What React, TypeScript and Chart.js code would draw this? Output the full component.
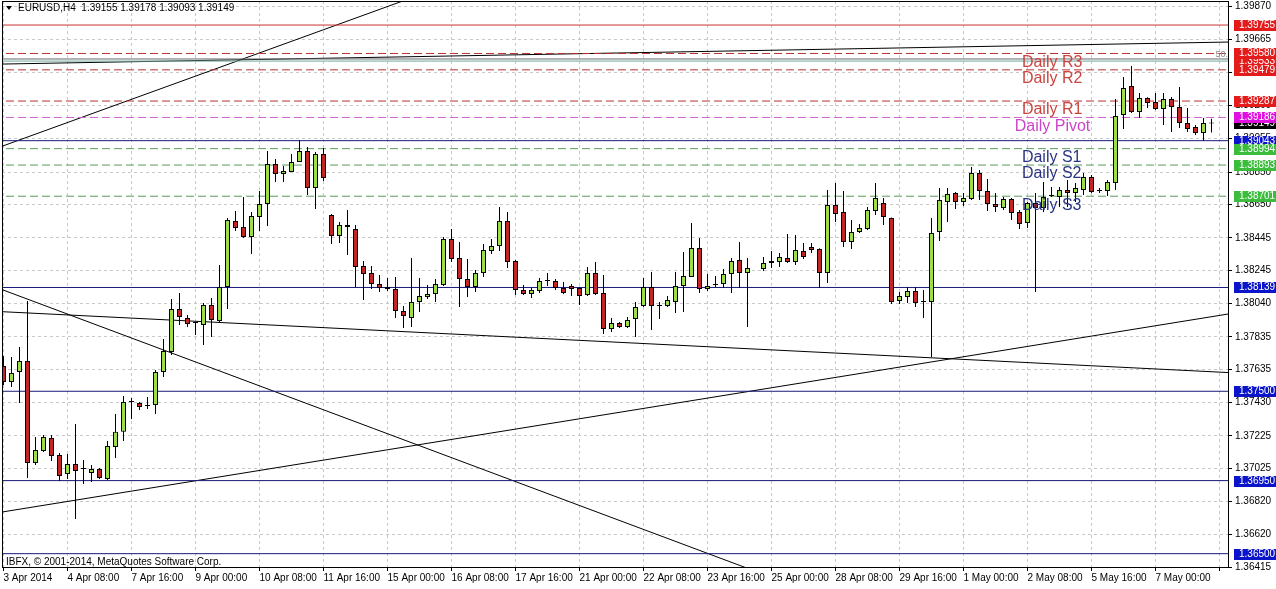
import React, { useEffect, useRef } from 'react';
import { Chart, registerables } from 'chart.js';

Chart.register(...registerables);

const W = 1276;
const H = 589;

// ---- Data (EURUSD H4) ----
const OPEN: (number | null)[] = [
  1.37656, 1.37557, 1.37619, 1.37687, 1.37059, 1.37132, 1.37213, 1.37107, 1.36990, 1.37052,
  1.37021, 1.36997, 1.37021, 1.36960, 1.37157, 1.37250, 1.37434, 1.37428, 1.37409, 1.37415,
  1.37619, 1.37742, 1.38006, 1.37951, 1.37920, 1.37908, 1.38031, 1.37932, 1.38142, 1.38549,
  1.38512, 1.38450, 1.38573, 1.38653, 1.38899, 1.38838, 1.38850, 1.38911, 1.38979, 1.38751,
  1.38961, 1.38585, 1.38456, 1.38524, 1.38499, 1.38271, 1.38228, 1.38160, 1.38142, 1.38130,
  1.37994, 1.37951, 1.38050, 1.38080, 1.38099, 1.38154, 1.38438, 1.38320, 1.38191, 1.38142,
  1.38228, 1.38364, 1.38394, 1.38549, 1.38302, 1.38124, 1.38099, 1.38117, 1.38179, 1.38179,
  1.38136, 1.38148, 1.38136, 1.38093, 1.38228, 1.38105, 1.37883, 1.37920, 1.37896, 1.37945,
  1.38025, 1.38142, 1.38025, 1.38025, 1.38050, 1.38148, 1.38204, 1.38382, 1.38130, 1.38154,
  1.38160, 1.38222, 1.38308, 1.38228, null, 1.38253, 1.38290, 1.38296, 1.38320, 1.38296,
  1.38364, 1.38388, 1.38376, 1.38228, 1.38647, 1.38604, 1.38419, 1.38481, 1.38499, 1.38610,
  1.38659, 1.38567, 1.38056, 1.38080, 1.38117, 1.38050, 1.38050, 1.38481, 1.38665, 1.38721,
  1.38665, 1.38684, 1.38844, 1.38733, 1.38653, 1.38628, 1.38684, 1.38604, 1.38536, 1.38659,
  1.38628, 1.38702, 1.38696, 1.38739, 1.38721, 1.38739, 1.38819, 1.38733, 1.38733, 1.38782,
  1.39201, 1.39380, 1.39219, 1.39306, 1.39281, 1.39238, 1.39299, 1.39250, 1.39152, 1.39127,
  1.39090, 1.39155,
];
const HIGH: (number | null)[] = [
  1.37717, 1.37711, 1.37773, 1.38056, 1.37219, 1.37231, 1.37231, 1.37120, 1.37114, 1.37298,
  1.37077, 1.37046, 1.37028, 1.37194, 1.37360, 1.37471, 1.37459, 1.37434, 1.37465, 1.37631,
  1.37822, 1.38068, 1.38105, 1.37969, 1.37926, 1.38043, 1.38074, 1.38277, 1.38567, 1.38610,
  1.38696, 1.38604, 1.38733, 1.38979, 1.38930, 1.38887, 1.38961, 1.39047, 1.39004, 1.38973,
  1.38998, 1.38592, 1.38542, 1.38616, 1.38524, 1.38302, 1.38271, 1.38216, 1.38197, 1.38204,
  1.38025, 1.38320, 1.38197, 1.38154, 1.38191, 1.38450, 1.38499, 1.38419, 1.38314, 1.38247,
  1.38407, 1.38438, 1.38635, 1.38604, 1.38308, 1.38154, 1.38136, 1.38197, 1.38228, 1.38191,
  1.38173, 1.38160, 1.38142, 1.38265, 1.38296, 1.38216, 1.37951, 1.37926, 1.37957, 1.38050,
  1.38197, 1.38234, 1.38050, 1.38086, 1.38234, 1.38358, 1.38536, 1.38444, 1.38222, 1.38210,
  1.38253, 1.38320, 1.38419, 1.38320, null, 1.38327, 1.38364, 1.38351, 1.38468, 1.38462,
  1.38413, 1.38413, 1.38380, 1.38739, 1.38782, 1.38733, 1.38555, 1.38530, 1.38635, 1.38782,
  1.38690, 1.38570, 1.38111, 1.38142, 1.38142, 1.38124, 1.38567, 1.38751, 1.38751, 1.38727,
  1.38721, 1.38881, 1.38862, 1.38807, 1.38721, 1.38696, 1.38690, 1.38616, 1.38665, 1.38721,
  1.38788, 1.38758, 1.38758, 1.38801, 1.38782, 1.38844, 1.38831, 1.38751, 1.38801, 1.39299,
  1.39435, 1.39503, 1.39336, 1.39310, 1.39336, 1.39336, 1.39312, 1.39373, 1.39244, 1.39139,
  1.39183, 1.39178,
];
const LOW: (number | null)[] = [
  1.37538, 1.37526, 1.37428, 1.36966, 1.37046, 1.37126, 1.37071, 1.36948, 1.36960, 1.36713,
  1.36929, 1.36942, 1.36960, 1.36954, 1.37089, 1.37194, 1.37329, 1.37385, 1.37391, 1.37360,
  1.37588, 1.37723, 1.37908, 1.37896, 1.37846, 1.37785, 1.37834, 1.37920, 1.38006, 1.38487,
  1.38444, 1.38345, 1.38487, 1.38518, 1.38788, 1.38788, 1.38850, 1.38911, 1.38708, 1.38622,
  1.38795, 1.38407, 1.38413, 1.38339, 1.38142, 1.38062, 1.38130, 1.38111, 1.38117, 1.37951,
  1.37889, 1.37896, 1.37988, 1.38068, 1.38050, 1.38148, 1.38296, 1.38019, 1.38080, 1.38111,
  1.38204, 1.38345, 1.38364, 1.38259, 1.38093, 1.38093, 1.38074, 1.38105, 1.38148, 1.38124,
  1.38099, 1.38086, 1.38031, 1.38086, 1.38093, 1.37852, 1.37865, 1.37889, 1.37889, 1.37834,
  1.38019, 1.37877, 1.37945, 1.38019, 1.37982, 1.37988, 1.38204, 1.38105, 1.38117, 1.38142,
  1.38136, 1.38105, 1.38136, 1.37896, null, 1.38240, 1.38259, 1.38265, 1.38290, 1.38277,
  1.38314, 1.38351, 1.38136, 1.38167, 1.38542, 1.38388, 1.38376, 1.38475, 1.38493, 1.38585,
  1.38524, 1.38037, 1.38037, 1.38043, 1.38019, 1.37951, 1.37711, 1.38425, 1.38542, 1.38622,
  1.38641, 1.38678, 1.38678, 1.38610, 1.38604, 1.38616, 1.38555, 1.38499, 1.38506, 1.38111,
  1.38604, 1.38696, 1.38635, 1.38635, 1.38665, 1.38708, 1.38721, 1.38721, 1.38702, 1.38739,
  1.39115, 1.39213, 1.39183, 1.39244, 1.39232, 1.39139, 1.39096, 1.39121, 1.39096, 1.39078,
  1.39041, 1.39093,
];
const CLOSE: (number | null)[] = [
  1.37557, 1.37613, 1.37687, 1.37059, 1.37138, 1.37219, 1.37101, 1.36978, 1.37052, 1.37009,
  1.37021, 1.37021, 1.36966, 1.37163, 1.37250, 1.37434, 1.37434, 1.37403, 1.37409, 1.37619,
  1.37748, 1.38006, 1.37957, 1.37914, 1.37920, 1.38031, 1.37939, 1.38142, 1.38555, 1.38506,
  1.38450, 1.38579, 1.38653, 1.38899, 1.38838, 1.38856, 1.38911, 1.38979, 1.38751, 1.38961,
  1.38813, 1.38456, 1.38524, 1.38512, 1.38265, 1.38222, 1.38160, 1.38136, 1.38130, 1.37994,
  1.37963, 1.38050, 1.38086, 1.38099, 1.38160, 1.38438, 1.38314, 1.38191, 1.38142, 1.38228,
  1.38370, 1.38394, 1.38549, 1.38296, 1.38124, 1.38099, 1.38124, 1.38179, 1.38179, 1.38136,
  1.38105, 1.38130, 1.38086, 1.38228, 1.38099, 1.37883, 1.37920, 1.37896, 1.37939, 1.38019,
  1.38142, 1.38025, 1.38025, 1.38062, 1.38148, 1.38210, 1.38382, 1.38130, 1.38148, 1.38154,
  1.38222, 1.38302, 1.38228, 1.38259, null, 1.38290, 1.38302, 1.38327, 1.38296, 1.38370,
  1.38327, 1.38370, 1.38228, 1.38647, 1.38592, 1.38419, 1.38481, 1.38506, 1.38616, 1.38690,
  1.38573, 1.38050, 1.38086, 1.38117, 1.38043, 1.38050, 1.38475, 1.38678, 1.38715, 1.38665,
  1.38690, 1.38844, 1.38733, 1.38653, 1.38635, 1.38684, 1.38598, 1.38530, 1.38659, 1.38628,
  1.38696, 1.38702, 1.38739, 1.38721, 1.38751, 1.38819, 1.38727, 1.38733, 1.38788, 1.39195,
  1.39367, 1.39219, 1.39306, 1.39275, 1.39238, 1.39299, 1.39250, 1.39152, 1.39115, 1.39090,
  1.39152, 1.39149,
];

const SYMBOL = 'EURUSD,H4';

// axis ticks
const X_TICKS = [0, 8, 16, 24, 32, 40, 48, 56, 64, 72, 80, 88, 96, 104, 112, 120, 128, 136, 144, 152];
const X_LABELS = [
  '3 Apr 2014', '4 Apr 08:00', '7 Apr 16:00', '9 Apr 00:00', '10 Apr 08:00', '11 Apr 16:00',
  '15 Apr 00:00', '16 Apr 08:00', '17 Apr 16:00', '21 Apr 00:00', '22 Apr 08:00', '23 Apr 16:00',
  '25 Apr 00:00', '28 Apr 08:00', '29 Apr 16:00', '1 May 00:00', '2 May 08:00', '5 May 16:00',
  '7 May 00:00', '',
];
const Y_TICKS = [
  1.39870, 1.39665, 1.39460, 1.39260, 1.39055, 1.38850, 1.38650, 1.38445, 1.38245, 1.38040,
  1.37835, 1.37635, 1.37430, 1.37225, 1.37025, 1.36820, 1.36620, 1.36415,
];

// horizontal levels
const LEVEL_PRICES = [1.39755, 1.39580, 1.39479, 1.39287, 1.39186, 1.39043, 1.38994, 1.38893, 1.38701, 1.38139, 1.37500, 1.36950, 1.36500, 1.39546, 1.39533];
const LEVEL_KINDS = ['red', 'redDash', 'redDash', 'redDash', 'magDash', 'navy', 'greenDash', 'greenDash', 'greenDash', 'navy', 'navy', 'navy', 'navy', 'fibGray', 'fibTeal'];

// trend lines: [x1, price1, x2, price2]
const TRENDS: number[][] = [
  [-1, 1.38994, 55, 1.39994],
  [-1, 1.39514, 154, 1.39651],
  [-1, 1.38141, 100, 1.36281],
  [-1, 1.37992, 154, 1.37613],
  [-1, 1.36750, 154, 1.37983],
];

// text objects
const NOTE_TEXT = ['Daily R3', 'Daily R2', 'Daily R1', 'Daily Pivot', 'Daily S1', 'Daily S2', 'Daily S3'];
const NOTE_X = [127.3, 127.3, 127.3, 126.4, 127.3, 127.3, 127.3];
const NOTE_PRICE = [1.39580, 1.39479, 1.39287, 1.39186, 1.38994, 1.38893, 1.38701];
const NOTE_COLOR = ['#cc4440', '#cc4440', '#cc4440', '#cc44cc', '#2a3482', '#2a3482', '#2a3482'];

const FIB_LABEL = '50.0';
const FIB_LABEL_X = 151.5;
const FIB_LABEL_PRICE = 1.39546;

// right-axis price boxes (drawn in this order)
const BOX_PRICES = [1.39533, 1.39149, 1.39043, 1.39755, 1.39580, 1.39479, 1.39287, 1.39186, 1.38994, 1.38893, 1.38701, 1.38139, 1.37500, 1.36950, 1.36500];
const BOX_COLORS = ['#e31b1b', '#000000', '#0a14c8', '#e31b1b', '#e31b1b', '#e31b1b', '#e31b1b', '#e010e0', '#3cbc3c', '#3cbc3c', '#3cbc3c', '#0a14c8', '#0a14c8', '#0a14c8', '#0a14c8'];

const COPYRIGHT = 'IBFX, \u00A9 2001-2014, MetaQuotes Software Corp.';

// scale ranges
const X_MIN = -0.1875;
const X_MAX = 153.0625;
const Y_MIN = 1.36418;
const Y_MAX = 1.39903;

const BULL = '#9ede4a';
const BEAR = '#c42424';
const FONT = '"Liberation Sans", Arial, sans-serif';

const LEVEL_STYLE: Record<string, { color: string; dash: number[] }> = {
  red: { color: '#c83232', dash: [] },
  redDash: { color: '#b83030', dash: [8, 4] },
  magDash: { color: '#d060d0', dash: [8, 4] },
  greenDash: { color: '#5c9c5c', dash: [8, 4] },
  navy: { color: '#1a1a7a', dash: [] },
  fibGray: { color: '#6a6a6a', dash: [] },
  fibTeal: { color: '#6fa8a0', dash: [] },
};

const overlay = {
  id: 'mtOverlay',
  afterDatasetsDraw(chart: any) {
    const { ctx, chartArea: a, scales } = chart;
    const xs = scales.x;
    const ys = scales.y;
    ctx.save();
    ctx.beginPath();
    ctx.rect(a.left, a.top, a.right - a.left, a.bottom - a.top);
    ctx.clip();
    ctx.font = '16px ' + FONT;
    ctx.textAlign = 'left';
    ctx.textBaseline = 'top';
    for (let k = 0; k < NOTE_TEXT.length; k++) {
      ctx.fillStyle = NOTE_COLOR[k];
      ctx.fillText(NOTE_TEXT[k], xs.getPixelForValue(NOTE_X[k]), ys.getPixelForValue(NOTE_PRICE[k]) + 1);
    }
    ctx.font = '9px ' + FONT;
    ctx.fillStyle = '#8a8a8a';
    ctx.textBaseline = 'bottom';
    ctx.fillText(FIB_LABEL, xs.getPixelForValue(FIB_LABEL_X), ys.getPixelForValue(FIB_LABEL_PRICE));
    ctx.restore();
  },
  afterDraw(chart: any) {
    const { ctx, chartArea: a, scales } = chart;
    const ys = scales.y;
    ctx.save();
    // price boxes on right axis
    ctx.font = '10px ' + FONT;
    ctx.textAlign = 'left';
    ctx.textBaseline = 'middle';
    for (let k = 0; k < BOX_PRICES.length; k++) {
      const yc = Math.round(ys.getPixelForValue(BOX_PRICES[k]));
      ctx.fillStyle = BOX_COLORS[k];
      ctx.fillRect(a.right + 6, yc - 5, W - a.right - 6, 11);
      ctx.fillStyle = '#ffffff';
      ctx.fillText(BOX_PRICES[k].toFixed(5), a.right + 11, yc + 0.5);
    }
    // frame
    ctx.strokeStyle = '#000';
    ctx.lineWidth = 1;
    ctx.strokeRect(a.left + 0.5, a.top + 0.5, a.right - a.left, a.bottom - a.top);
    // header
    const n = OPEN.length - 1;
    const header = `${SYMBOL}  ${(OPEN[n] as number).toFixed(5)} ${(HIGH[n] as number).toFixed(5)} ${(LOW[n] as number).toFixed(5)} ${(CLOSE[n] as number).toFixed(5)}`;
    ctx.fillStyle = '#000';
    ctx.beginPath();
    ctx.moveTo(6, 6);
    ctx.lineTo(12, 6);
    ctx.lineTo(9, 10);
    ctx.closePath();
    ctx.fill();
    ctx.font = '10px ' + FONT;
    ctx.textBaseline = 'middle';
    ctx.fillText(header, 18, 8.5);
    // copyright
    ctx.fillText(COPYRIGHT, 6, 562);
    ctx.restore();
  },
};

export default function App() {
  const ref = useRef<HTMLCanvasElement | null>(null);

  useEffect(() => {
    const canvas = ref.current;
    if (!canvas) return;

    const idx: number[] = [];
    for (let i = 0; i < OPEN.length; i++) if (OPEN[i] !== null) idx.push(i);

    const bodies = idx.map((i) => ({ x: i, y: [OPEN[i] as number, CLOSE[i] as number] }));
    const bodyColors = idx.map((i) => {
      const o = OPEN[i] as number;
      const c = CLOSE[i] as number;
      return c > o ? BULL : c < o ? BEAR : '#000000';
    });
    const wicks = idx.map((i) => ({ x: i, y: [LOW[i] as number, HIGH[i] as number] }));

    const levelSets = LEVEL_PRICES.map((p, k) => {
      const st = LEVEL_STYLE[LEVEL_KINDS[k]];
      return {
        type: 'line' as const,
        data: [{ x: X_MIN - 1, y: p }, { x: X_MAX + 1, y: p }],
        borderColor: st.color,
        borderWidth: 1,
        borderDash: st.dash,
        pointRadius: 0,
        fill: false,
        order: 3,
        clip: 0,
      };
    });
    const trendSets = TRENDS.map((t) => ({
      type: 'line' as const,
      data: [{ x: t[0], y: t[1] }, { x: t[2], y: t[3] }],
      borderColor: '#000000',
      borderWidth: 1,
      pointRadius: 0,
      fill: false,
      order: 3,
      clip: 0,
    }));

    const zeroPad = (s: any) => {
      s.paddingTop = 0;
      s.paddingBottom = 0;
      s.paddingLeft = 0;
      s.paddingRight = 0;
    };

    const chart = new Chart(canvas, {
      type: 'bar',
      data: {
        datasets: [
          ...levelSets,
          ...trendSets,
          {
            type: 'bar',
            data: wicks as any,
            backgroundColor: '#000000',
            borderWidth: 0,
            barThickness: 1,
            maxBarThickness: 1,
            grouped: false,
            inflateAmount: 0,
            order: 2,
            clip: 0,
          } as any,
          {
            type: 'bar',
            data: bodies as any,
            backgroundColor: bodyColors,
            borderColor: '#000000',
            borderWidth: 1,
            borderSkipped: false,
            barThickness: 5,
            maxBarThickness: 5,
            minBarLength: 1,
            grouped: false,
            inflateAmount: 0,
            order: 1,
            clip: 0,
          } as any,
        ],
      },
      options: {
        animation: false,
        responsive: false,
        maintainAspectRatio: false,
        devicePixelRatio: 1,
        events: [],
        layout: { padding: { left: 2, top: 1, right: 0, bottom: 0 } },
        plugins: { legend: { display: false }, tooltip: { enabled: false } },
        scales: {
          x: {
            type: 'linear',
            position: 'bottom',
            min: X_MIN,
            max: X_MAX,
            offset: false,
            afterBuildTicks: (s: any) => {
              s.ticks = X_TICKS.map((v) => ({ value: v }));
            },
            afterFit: (s: any) => {
              s.height = H - 567;
              zeroPad(s);
            },
            ticks: {
              autoSkip: false,
              maxRotation: 0,
              minRotation: 0,
              align: 'start',
              labelOffset: 0,
              padding: 1,
              color: '#000',
              font: { family: FONT, size: 10 },
              callback: (_v: any, i: number) => X_LABELS[i] ?? '',
            },
            grid: {
              offset: false,
              color: '#c8c8c8',
              lineWidth: 1,
              drawTicks: true,
              tickLength: 4,
              tickColor: '#000',
            },
            border: { display: false, dash: [3, 3] },
          },
          y: {
            type: 'linear',
            position: 'right',
            min: Y_MIN,
            max: Y_MAX,
            afterBuildTicks: (s: any) => {
              s.ticks = Y_TICKS.map((v) => ({ value: v }));
            },
            afterFit: (s: any) => {
              s.width = 48;
              zeroPad(s);
            },
            ticks: {
              autoSkip: false,
              padding: 3,
              color: '#000',
              font: { family: FONT, size: 10 },
              callback: (v: any) => Number(v).toFixed(5),
            },
            grid: {
              color: '#c8c8c8',
              lineWidth: 1,
              drawTicks: true,
              tickLength: 4,
              tickColor: '#000',
            },
            border: { display: false, dash: [3, 3] },
          },
        },
      } as any,
      plugins: [overlay as any],
    });

    return () => chart.destroy();
  }, []);

  return (
    <div style={{ position: 'absolute', left: 0, top: 0, width: W, height: H, background: '#ffffff' }}>
      <canvas ref={ref} width={W} height={H} style={{ display: 'block', width: W, height: H }} />
    </div>
  );
}
